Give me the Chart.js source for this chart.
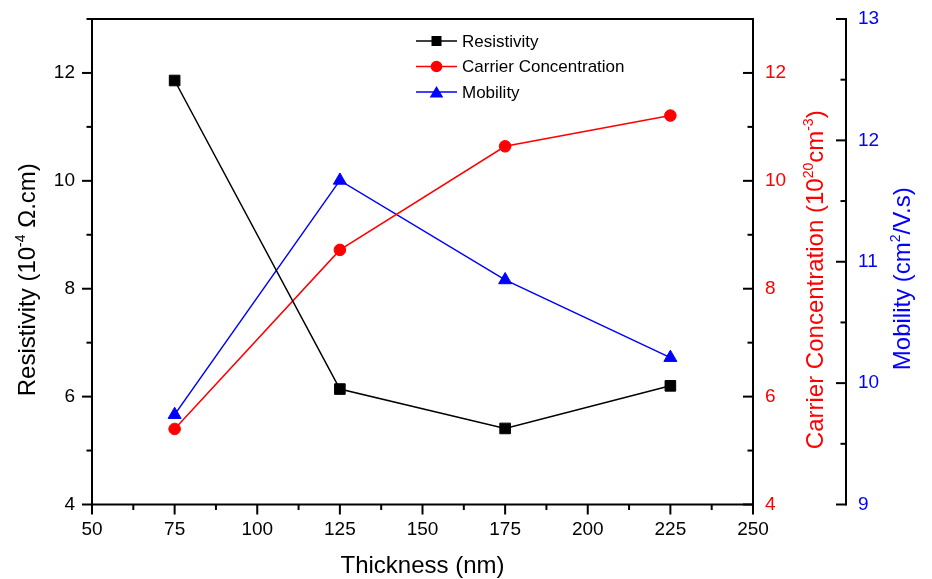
<!DOCTYPE html>
<html>
<head>
<meta charset="utf-8">
<script src="https://cdn.jsdelivr.net/npm/chart.js@4/dist/chart.umd.min.js"></script>
<style>
  html, body { margin: 0; padding: 0; background: #fff; }
  #wrap { width: 932px; height: 579px; }
</style>
</head>
<body>
<div id="wrap"><canvas id="canvas1" width="932" height="579"></canvas></div>
<script>
// film thickness (nm) and the three measured quantities
var thickness = [75, 125, 175, 225];
var resistivity = [11.86, 6.14, 5.41, 6.20];   // 10^-4 ohm.cm
var carrier = [5.40, 8.72, 10.64, 11.21];      // 10^20 cm^-3
var mobility = [9.74, 11.67, 10.85, 10.21];    // cm^2/V.s

var seriesNames = ["Resistivity", "Carrier Concentration", "Mobility"];
var seriesColors = ["#000000", "#ff0000", "#0000ff"];

var FONT = "'Liberation Sans', Arial, sans-serif";
var MAJOR = 10, MINOR = 5.5;

function toPoints(ys) {
  var pts = [];
  for (var i = 0; i < thickness.length; i++) {
    pts.push({x: thickness[i], y: ys[i]});
  }
  return pts;
}

function evenOnly(v) { return v % 2 === 0 ? v : ''; }
function wholeOnly(v) { return v % 1 === 0 ? v : ''; }

function tickLine(ctx, x1, y1, x2, y2) {
  ctx.beginPath();
  ctx.moveTo(x1, y1);
  ctx.lineTo(x2, y2);
  ctx.stroke();
}

// text running bottom-to-top, with superscript pieces
function drawVerticalTitle(ctx, parts, baseX, centerY, size, color) {
  var supSize = Math.round(size * 0.6);
  var total = 0;
  parts.forEach(function(p) {
    ctx.font = (p.sup ? supSize : size) + "px " + FONT;
    p.w = ctx.measureText(p.t).width;
    total += p.w;
  });
  ctx.save();
  ctx.translate(baseX, centerY);
  ctx.rotate(-Math.PI / 2);
  ctx.fillStyle = color;
  ctx.textBaseline = 'alphabetic';
  ctx.textAlign = 'left';
  var x = -total / 2;
  parts.forEach(function(p) {
    ctx.font = (p.sup ? supSize : size) + "px " + FONT;
    ctx.fillText(p.t, x, p.sup ? -size * 0.42 : 0);
    x += p.w;
  });
  ctx.restore();
}

function drawMarker(ctx, style, x, y, color) {
  ctx.fillStyle = color;
  ctx.beginPath();
  if (style === 'rect') {
    ctx.rect(x - 5, y - 5, 10, 10);
  } else if (style === 'circle') {
    ctx.arc(x, y, 5.8, 0, Math.PI * 2);
  } else {
    ctx.moveTo(x, y - 6);
    ctx.lineTo(x + 6.8, y + 5.5);
    ctx.lineTo(x - 6.8, y + 5.5);
    ctx.closePath();
  }
  ctx.fill();
}

var originAxes = {
  id: 'originAxes',
  afterDraw: function(chart) {
    var ctx = chart.ctx, a = chart.chartArea, s = chart.scales;
    ctx.save();
    ctx.strokeStyle = '#000';
    ctx.lineWidth = 2;
    ctx.strokeRect(a.left, a.top, a.right - a.left, a.bottom - a.top);

    s.x.ticks.forEach(function(t) {
      var px = s.x.getPixelForValue(t.value);
      tickLine(ctx, px, a.bottom, px, a.bottom + (t.value % 25 === 0 ? MAJOR : MINOR));
    });
    s.y.ticks.forEach(function(t) {
      var py = s.y.getPixelForValue(t.value);
      tickLine(ctx, a.left, py, a.left - (t.value % 2 === 0 ? MAJOR : MINOR), py);
    });
    s.y1.ticks.forEach(function(t) {
      var py = s.y1.getPixelForValue(t.value);
      tickLine(ctx, a.right, py, a.right - (t.value % 2 === 0 ? MAJOR : MINOR), py);
    });
    // detached mobility axis
    var bx = s.y2.left;
    tickLine(ctx, bx, a.top - 1, bx, a.bottom + 1);
    s.y2.ticks.forEach(function(t) {
      var py = s.y2.getPixelForValue(t.value);
      tickLine(ctx, bx, py, bx - (t.value % 1 === 0 ? MAJOR : MINOR), py);
    });
    ctx.restore();

    // axis titles
    var cy = (a.top + a.bottom) / 2 + 18;
    drawVerticalTitle(ctx, [{t: 'Resistivity (10'}, {t: '-4', sup: true}, {t: ' \u03A9.cm)'}],
      s.y.left + 35, cy, 24, '#000000');
    drawVerticalTitle(ctx, [{t: 'Carrier Concentration (10'}, {t: '20', sup: true}, {t: 'cm'}, {t: '-3', sup: true}, {t: ')'}],
      s.y1.left + 70, cy, 24, '#ff0000');
    drawVerticalTitle(ctx, [{t: 'Mobility (cm'}, {t: '2', sup: true}, {t: '/V.s)'}],
      s.y2.left + 64, cy - 1, 24, '#0000ff');

    // legend
    var styles = ['rect', 'circle', 'triangle'];
    var lx = a.left + 324, ly = a.top + 22;
    ctx.save();
    ctx.font = "17px " + FONT;
    ctx.textBaseline = 'middle';
    for (var i = 0; i < seriesNames.length; i++) {
      var yy = ly + i * 25.5;
      ctx.strokeStyle = seriesColors[i];
      ctx.lineWidth = 1.5;
      tickLine(ctx, lx, yy, lx + 41, yy);
      drawMarker(ctx, styles[i], lx + 20.5, yy, seriesColors[i]);
      ctx.fillStyle = '#000';
      ctx.fillText(seriesNames[i], lx + 46, yy + 1);
    }
    ctx.restore();
  }
};

function makeSet(i, ys, style, radius, axis) {
  return {
    label: seriesNames[i],
    data: toPoints(ys),
    borderColor: seriesColors[i],
    backgroundColor: seriesColors[i],
    pointBackgroundColor: seriesColors[i],
    pointBorderColor: seriesColors[i],
    pointBorderWidth: 1,
    pointStyle: style,
    pointRadius: radius,
    borderWidth: 1.5,
    tension: 0,
    yAxisID: axis
  };
}

// no extra room for half-labels at the ends, the frame sets the plot box
function noPadding(scale) {
  scale.paddingTop = 0;
  scale.paddingBottom = 0;
  scale.paddingLeft = 0;
  scale.paddingRight = 0;
}

function yAxis(pos, min, max, step, cb, color, width) {
  return {
    type: 'linear',
    position: pos,
    min: min,
    max: max,
    grid: {display: false, drawTicks: false, tickLength: 0},
    border: {display: false},
    ticks: {
      stepSize: step,
      callback: cb,
      color: color,
      font: {size: 19, family: FONT},
      padding: pos === 'left' ? 17 : 12,
      autoSkip: false
    },
    afterFit: function(scale) { scale.width = width; noPadding(scale); }
  };
}

var ctx1 = document.getElementById('canvas1');
var myChart1 = new Chart(ctx1, {
  type: 'line',
  data: {
    datasets: [
      makeSet(0, resistivity, 'rect', 7.5, 'y'),
      makeSet(1, carrier, 'circle', 5.8, 'y1'),
      makeSet(2, mobility, 'triangle', 7.5, 'y2')
    ]
  },
  options: {
    responsive: false,
    animation: false,
    devicePixelRatio: 1,
    layout: {padding: {top: 19, left: 0, right: 0, bottom: 0}},
    plugins: {legend: {display: false}, tooltip: {enabled: false}},
    scales: {
      x: {
        type: 'linear',
        position: 'bottom',
        min: 50,
        max: 250,
        grid: {display: false, drawTicks: false, tickLength: 0},
        border: {display: false},
        ticks: {
          stepSize: 12.5,
          callback: function(v) { return v % 25 === 0 ? v : ''; },
          color: '#000',
          font: {size: 19, family: FONT},
          padding: 14,
          autoSkip: false,
          maxRotation: 0,
          minRotation: 0
        },
        title: {
          display: true,
          text: 'Thickness (nm)',
          color: '#000',
          font: {size: 24, family: FONT, lineHeight: 1.05},
          padding: {top: 0, bottom: 0}
        },
        afterFit: function(scale) { scale.height = 74.5; noPadding(scale); }
      },
      y: yAxis('left', 4, 13, 1, evenOnly, '#000000', 92),
      y1: yAxis('right', 4, 13, 1, evenOnly, '#ff0000', 93),
      y2: yAxis('right', 9, 13, 0.5, wholeOnly, '#0000ff', 86)
    }
  },
  plugins: [originAxes]
});
</script>
</body>
</html>
